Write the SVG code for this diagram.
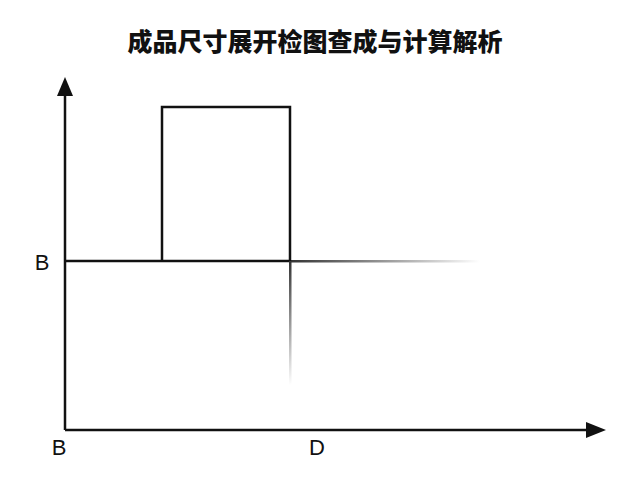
<svg xmlns="http://www.w3.org/2000/svg" width="640" height="480" viewBox="0 0 640 480">
<style>
.ln{stroke:#111;stroke-width:2.5;fill:none}
.lbl{font-family:"Liberation Sans",Arial,sans-serif;font-size:22px;fill:#111}
.title{font-family:"Noto Sans CJK SC","Noto Sans",sans-serif;font-size:25px;font-weight:900;fill:#111}
</style>
<defs>
<linearGradient id="gh" x1="290" y1="0" x2="480" y2="0" gradientUnits="userSpaceOnUse">
<stop offset="0" stop-color="#333" stop-opacity="1"/>
<stop offset="1" stop-color="#333" stop-opacity="0"/>
</linearGradient>
<linearGradient id="gv" x1="0" y1="261" x2="0" y2="385" gradientUnits="userSpaceOnUse">
<stop offset="0" stop-color="#333" stop-opacity="1"/>
<stop offset="1" stop-color="#333" stop-opacity="0"/>
</linearGradient>
</defs>
<rect width="640" height="480" fill="#fff"/>
<text class="title" x="315" y="51" text-anchor="middle">成品尺寸展开检图查成与计算解析</text>
<g id="connectors">
<line class="ln" x1="65" y1="430" x2="65" y2="92"/>
<polygon points="65,77 57,96 73,96" fill="#111"/>
<line class="ln" x1="65" y1="430" x2="588" y2="430"/>
<polygon points="606,430 586,422 586,438" fill="#111"/>
<line class="ln" x1="65" y1="261" x2="290" y2="261"/>
<rect x="290" y="260" width="190" height="2.5" fill="url(#gh)"/>
<rect x="289" y="261" width="2.5" height="124" fill="url(#gv)"/>
</g>
<g id="rect-node">
<polyline class="ln" points="162,261 162,107 290,107 290,261"/>
</g>
<g id="labels">
<text class="lbl" x="42" y="270" text-anchor="middle">B</text>
<text class="lbl" x="59" y="455" text-anchor="middle">B</text>
<text class="lbl" x="317" y="455" text-anchor="middle">D</text>
</g>
</svg>
